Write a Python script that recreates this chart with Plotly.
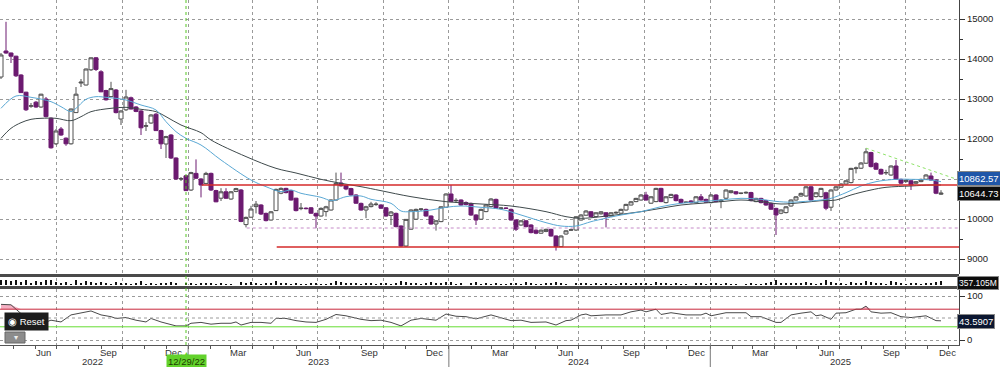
import numpy as np
import pandas as pd
import plotly.graph_objects as go

# ---------------- data (weekly candles) ----------------
dates = pd.date_range("2022-04-14", periods=189, freq="7D")

open_ = [13550,14200,14150,14070,13600,13170,12820,12920,12800,13000,
         12520,11880,12250,12020,11880,12660,13400,13350,13730,14030,
         13680,13210,13060,13225,12500,12730,13030,12800,12700,12320,
         12400,12620,12210,11875,12100,11525,11000,11080,10725,11140,
         11000,10890,11140,10710,10520,10680,10500,10690,10725,9860,
         10045,10310,10350,10140,9975,10210,10645,10765,10710,10520,
         10260,10270,10280,10140,10075,10185,10225,10475,10900,10840,
         10760,10600,10390,10225,10310,10360,10350,10280,10090,10140,
         9825,9325,9745,9995,10240,10240,10075,9875,9935,10295,
         10625,10455,10475,10410,10390,10100,9995,10185,10310,10490,
         10265,10275,10240,9975,9850,9955,9850,9720,9645,9690,
         9740,9575,9310,9625,9720,9725,9975,10095,10180,10060,
         10130,10155,10075,10150,10145,10225,10350,10435,10475,10600,
         10395,10435,10765,10410,10535,10600,10490,10415,10450,10410,
         10555,10490,10410,10600,10440,10520,10660,10680,10640,10650,
         10660,10435,10515,10460,10390,10265,10145,10160,10325,10475,
         10575,10575,10805,10560,10560,10655,10295,10725,10795,10875,
         10910,11260,11270,11395,11660,11390,11240,11155,11100,11325,
         10990,10935,10955,10895,10935,10995,11075,10975,10620]
high = [14150,14930,14160,14080,13620,13180,12900,12950,13130,13050,
        12540,12250,12300,12040,12760,13300,13500,13760,14040,14050,
        13720,13230,13430,13250,12720,13230,13060,12820,12720,12420,
        12620,12650,12230,12080,12120,11540,11050,11100,11180,11490,
        11020,11180,11160,10730,10770,10770,10700,10780,10750,10060,
        10330,10450,10370,10160,10200,10760,10790,10780,10730,10530,
        10400,10290,10300,10160,10290,10330,10490,11160,11160,10860,
        10780,10620,10410,10330,10430,10420,10370,10300,10200,10160,
        9840,10000,10240,10260,10270,10260,10090,9970,10320,10640,
        10850,10520,10490,10440,10410,10120,10260,10370,10520,10510,
        10300,10290,10260,9990,9970,9970,9870,9740,9740,9760,
        9760,9590,9590,9720,9760,10070,10120,10220,10200,10170,
        10200,10170,10170,10190,10260,10380,10450,10530,10620,10680,
        10570,10780,10780,10570,10630,10620,10510,10440,10470,10570,
        10625,10510,10620,10620,10500,10740,10720,10700,10660,10690,
        10680,10530,10530,10480,10410,10280,10240,10320,10490,10570,
        10660,10820,10830,10670,10780,10680,10740,10820,10890,10970,
        11280,11310,11420,11770,11680,11420,11260,11230,11340,11475,
        11010,10990,10980,10950,11010,11120,11160,11000,10720]
low = [13500,14130,13900,13550,13150,12700,12780,12780,12780,12540,
       11760,11850,12080,11830,11860,12650,13300,13340,13700,13700,
       13170,12960,13050,12640,12350,12700,12740,12670,12100,12200,
       12380,12200,11750,11525,11500,10980,10950,10700,10700,11000,
       10540,10870,10700,10420,10450,10500,10480,10670,9920,9790,
       10030,10140,10100,9940,9960,10200,10620,10640,10460,10190,
       10220,10240,10130,9770,10060,10060,10210,10460,10810,10720,
       10580,10380,10210,10020,10290,10330,10250,10060,9850,9790,
       9300,9300,9730,9980,10200,10060,9860,9710,9920,10280,
       10420,10400,10330,10340,10080,9850,9980,10170,10290,10250,
       10240,10250,9960,9700,9830,9790,9640,9620,9630,9670,
       9560,9210,9300,9610,9700,9700,9960,10080,10040,10040,
       10110,9790,10060,10130,10130,10210,10340,10420,10460,10460,
       10380,10420,10420,10390,10520,10440,10390,10400,10390,10390,
       10460,10400,10390,10420,10270,10500,10640,10610,10620,10630,
       10440,10420,10390,10330,10230,9600,10120,10140,10310,10460,
       10560,10560,10460,10540,10540,10220,10200,10710,10780,10860,
       10890,11140,11250,11380,11290,11230,11110,11100,11080,10980,
       10870,10910,10725,10870,10920,10980,10960,10620,10600]
close = [14100,14150,14070,13580,13160,12730,12830,12800,13120,12560,
         11780,12200,12100,11880,12750,13120,13420,13750,14030,13740,
         13180,12980,13260,12660,12700,13050,12750,12690,12280,12330,
         12600,12210,11880,12060,11525,11000,11010,10710,11160,11020,
         10850,11140,10725,10430,10680,10520,10680,10760,9940,10040,
         10250,10370,10125,9960,10180,10740,10765,10660,10475,10210,
         10270,10260,10145,10075,10265,10305,10475,10890,10830,10750,
         10600,10395,10225,10305,10375,10370,10270,10075,10175,9810,
         9325,9990,10225,10240,10250,10075,9875,9955,10305,10625,
         10435,10465,10350,10365,10100,9975,10240,10350,10500,10270,
         10275,10265,9975,9745,9955,9810,9660,9645,9720,9740,
         9575,9310,9575,9705,9730,10055,10100,10200,10060,10155,
         10180,10060,10155,10165,10240,10365,10430,10515,10600,10475,
         10555,10765,10435,10555,10615,10460,10410,10420,10410,10555,
         10475,10420,10600,10435,10470,10725,10705,10630,10645,10665,
         10460,10515,10410,10350,10245,10100,10225,10305,10475,10555,
         10640,10805,10475,10655,10765,10270,10725,10805,10875,10955,
         11265,11275,11400,11680,11310,11245,11125,11160,11325,10995,
         10895,10970,10850,10930,10990,11100,10975,10645,10644.73]

volume_m = [390,400,360,380,350,390,330,360,340,380,
            400,340,330,350,300,380,330,370,340,330,
            350,330,300,340,320,330,300,310,360,290,
            320,300,330,310,340,330,270,320,330,300,
            320,330,310,300,310,290,300,270,340,330,
            340,320,300,330,310,360,330,320,300,310,
            290,300,310,330,290,300,320,370,350,330,
            320,330,300,310,320,290,310,330,300,330,
            360,350,320,310,290,330,340,310,320,340,
            350,300,310,280,320,340,300,310,300,320,
            290,300,330,310,300,340,310,290,300,310,
            320,350,320,300,270,330,320,310,300,310,
            300,320,290,300,310,320,300,310,330,320,
            300,340,330,310,300,320,290,300,280,310,
            320,300,310,320,300,330,290,300,280,300,
            320,290,300,330,350,390,320,310,330,320,
            310,340,320,300,330,380,340,310,320,300,
            340,310,330,360,350,330,310,300,370,340,
            320,300,330,310,300,320,330,340,357.105]

# moving averages (week index, value)
ma_fast_k = [0,3,6,10,12,14,15,17,19,21,23,25,28,31,33,35,37,40,44,50,53,56,58,60,64,66,67,69,
             72,74,78,80,82,86,89,92,96,100,104,109,112,115,118,120,124,128,132,136,140,144,148,
             152,155,158,160,164,166,169,172,175,179,182,186,188]
ma_fast_v = [12767,13075,13042,12933,12808,12683,12767,12992,13058,13042,13017,12975,12850,12725,
             12433,12183,12017,11850,11475,10975,10808,10683,10725,10642,10542,10458,10475,10558,
             10575,10492,10392,10200,10183,10225,10292,10325,10292,10242,10100,9908,9825,9825,9933,
             9992,10100,10183,10308,10392,10433,10475,10517,10492,10440,10420,10433,10475,10517,
             10658,10825,10933,10992,10992,10975,10933]
ma_slow_k = [0,2,4,6,8,11,14,16,18,22,25,28,31,33,36,40,42,49,55,59,64,68,72,76,82,89,96,102,109,
             113,116,120,124,128,132,136,140,144,148,152,156,160,164,167,170,174,177,182,186,188]
ma_slow_v = [12017,12267,12408,12492,12517,12517,12458,12558,12683,12767,12792,12742,12683,12558,
             12350,12158,11975,11560,11267,11150,10992,10892,10808,10708,10558,10433,10375,10325,
             10183,10058,10017,10058,10117,10183,10267,10350,10392,10433,10475,10433,10375,10408,
             10458,10475,10600,10725,10792,10825,10850,10850]

# RSI (week index, value)
rsi_k = [0,2,4,6,8,9,10,12,14,16,18,20,22,23,25,27,29,30,32,35,37,38,40,42,44,46,47,48,50,52,54,
         55,57,59,61,63,65,67,69,72,74,76,78,80,82,84,86,87,89,91,93,95,98,100,102,104,106,109,
         111,113,114,116,117,118,121,124,126,128,129,131,132,134,137,140,141,142,145,149,150,152,
         155,156,158,160,162,163,164,166,167,169,171,172,173,174,176,178,180,182,185,187,188]
rsi_v = [81,80,60,44,54,41,45,41,57,62,66,57,53,49,51,45,41,49,41,32,32,38,40,36,38,38,41,34,40,
         40,38,49,49,44,41,40,47,58,55,47,44,45,40,32,45,49,47,45,59,54,53,48,57,51,44,45,40,41,
         34,44,45,57,59,55,57,57,64,68,64,70,58,62,57,57,61,55,62,62,53,53,40,40,57,61,64,55,57,
         47,61,62,70,70,77,64,61,62,53,51,55,44,43.5907]

# analysis lines
hlevels = [10850, 9300]
hstarts = ["2023-01-20", "2023-05-05"]
pink_level, pink_start = 9775, "2023-03-24"
trend_start, trend_vals = "2025-08-07", [11770, 10975]
marker_date = "2022-12-29"

y_ticks = [9000, 10000, 11000, 12000, 13000, 14000, 15000]
y_tick_text = ["9000", "10000", "", "12000", "13000", "14000", "15000"]
month_lbl_dates = ["2022-06-12","2022-09-12","2022-12-12","2023-03-12","2023-06-12","2023-09-12",
                   "2023-12-12","2024-03-12","2024-06-12","2024-09-12","2024-12-12","2025-03-12",
                   "2025-06-12","2025-09-12","2025-11-29"]
month_lbl_text = ["Jun","Sep","Dec","Mar","Jun","Sep","Dec","Mar","Jun","Sep","Dec","Mar","Jun","Sep","Dec"]
year_lbl_dates = ["2022-08-20","2023-07-02","2024-07-01","2025-07-02"]
year_lbl_text = ["2022","2023","2024","2025"]

# ---------------- layout helpers ----------------
H = 367
def py(pix):
    return 1 - pix / H

XD = 0.959
ref = pd.Timestamp(marker_date)
def px_date(p):
    return ref + pd.Timedelta(days=(p - 186) * 7 / 5)

x_range = [px_date(0), px_date(959)]
quarters = pd.date_range("2022-07-01", "2025-10-01", freq="QS")
months = pd.date_range("2022-05-01", "2025-12-01", freq="MS")

FONT = "Liberation Sans, Arial, sans-serif"
GRID = "#9a9a9a"

fig = go.Figure()

fig.add_trace(go.Candlestick(
    x=dates, open=open_, high=high, low=low, close=close,
    increasing=dict(line=dict(color="#505050", width=1), fillcolor="white"),
    decreasing=dict(line=dict(color="#6c1a70", width=1), fillcolor="#6c1a70"),
    whiskerwidth=0, showlegend=False, xaxis="x", yaxis="y"))

fig.add_trace(go.Scatter(x=dates[ma_slow_k], y=ma_slow_v, mode="lines",
                         line=dict(color="#3f4a4c", width=1, shape="spline"),
                         showlegend=False, xaxis="x", yaxis="y"))
fig.add_trace(go.Scatter(x=dates[ma_fast_k], y=ma_fast_v, mode="lines",
                         line=dict(color="#5aa8d4", width=1, shape="spline"),
                         showlegend=False, xaxis="x", yaxis="y"))

fig.add_trace(go.Bar(x=dates, y=volume_m, marker=dict(color="#111111", line=dict(width=0)),
                     width=3.6 * 86400000, showlegend=False, xaxis="x2", yaxis="y2"))

rx = dates[rsi_k]
fig.add_trace(go.Scatter(x=rx, y=[70] * len(rx), mode="lines", line=dict(width=0),
                         showlegend=False, xaxis="x3", yaxis="y3", hoverinfo="skip"))
fig.add_trace(go.Scatter(x=rx, y=np.maximum(rsi_v, 70), mode="lines", line=dict(width=0),
                         fill="tonexty", fillcolor="rgba(240,150,175,0.75)",
                         showlegend=False, xaxis="x3", yaxis="y3", hoverinfo="skip"))
fig.add_trace(go.Scatter(x=rx, y=rsi_v, mode="lines", line=dict(color="#4a4a4a", width=1),
                         showlegend=False, xaxis="x3", yaxis="y3"))

xcommon = dict(type="date", range=x_range, domain=[0, XD], tickvals=quarters,
               showgrid=True, gridcolor=GRID, griddash="dot", gridwidth=1,
               showticklabels=False, zeroline=False, fixedrange=True)
ycommon = dict(side="right", showline=True, linecolor="#444", linewidth=1, zeroline=False,
               tickfont=dict(family=FONT, size=9.5, color="#222"), fixedrange=True)

fig.update_layout(
    width=1000, height=367, margin=dict(l=0, r=0, t=0, b=0), autosize=False,
    paper_bgcolor="white", plot_bgcolor="white", showlegend=False,
    boxgap=0.2, boxgroupgap=0, bargap=0,
    xaxis=dict(**xcommon, anchor="y", ticks="", rangeslider=dict(visible=False)),
    xaxis2=dict(**xcommon, anchor="y2", ticks="", matches="x"),
    xaxis3=dict(**xcommon, anchor="y3", matches="x", ticks="outside", ticklen=3,
                tickcolor="#555", showline=True, linecolor="#555",
                minor=dict(tickvals=months, ticks="outside", ticklen=3, tickcolor="#555",
                           showgrid=False)),
    yaxis=dict(**ycommon, anchor="x", domain=[py(274), 1], range=[8625, 15475],
               tickvals=y_ticks, ticktext=y_tick_text, ticks="outside", ticklen=5,
               tickcolor="#333", showgrid=True, gridcolor=GRID, griddash="dot",
               minor=dict(dtick=500, tick0=0, ticks="outside", ticklen=3, tickcolor="#333",
                          showgrid=False)),
    yaxis2=dict(**ycommon, anchor="x2", domain=[py(285), py(278)], range=[270, 440],
                showticklabels=False, showgrid=False, ticks=""),
    yaxis3=dict(**ycommon, anchor="x3", domain=[py(345), py(289)], range=[-11.36, 115.9],
                tickvals=[0, 100], ticks="outside", ticklen=5, tickcolor="#333",
                showgrid=True, gridcolor=GRID, griddash="dot"),
)

shapes = []
for a, b in [(274, 277), (286, 289)]:
    shapes.append(dict(type="rect", xref="paper", yref="paper", x0=0, x1=XD, y0=py(b), y1=py(a),
                       fillcolor="#4a4a4a", line=dict(width=0), layer="above"))
for lvl, st in zip(hlevels, hstarts):
    shapes.append(dict(type="line", xref="x", yref="y", x0=st, x1=x_range[1], y0=lvl, y1=lvl,
                       line=dict(color="#d42a2a", width=1.6)))
shapes.append(dict(type="line", xref="x", yref="y", x0=pink_start, x1=x_range[1],
                   y0=pink_level, y1=pink_level, line=dict(color="#c58ac8", width=1, dash="dot")))
shapes.append(dict(type="line", xref="x", yref="y", x0=trend_start, x1=x_range[1],
                   y0=trend_vals[0], y1=trend_vals[1], line=dict(color="#8fe36a", width=1, dash="dot")))
shapes.append(dict(type="line", xref="paper", yref="y3", x0=0, x1=XD, y0=70, y1=70,
                   line=dict(color="#c8283c", width=1)))
shapes.append(dict(type="line", xref="paper", yref="y3", x0=0, x1=XD, y0=30, y1=30,
                   line=dict(color="#66dd33", width=1)))
shapes.append(dict(type="line", xref="paper", yref="y3", x0=0, x1=XD, y0=50, y1=50,
                   line=dict(color=GRID, width=1, dash="dot")))
shapes.append(dict(type="line", xref="x", yref="paper", x0=marker_date, x1=marker_date,
                   y0=py(345), y1=1, line=dict(color="#55c422", width=1, dash="dot")))
for yd in ["2023-01-01", "2024-01-01", "2025-01-01"]:
    shapes.append(dict(type="line", xref="x", yref="paper", x0=yd, x1=yd, y0=0, y1=py(345),
                       line=dict(color="#777", width=1)))
shapes.append(dict(type="rect", xref="paper", yref="paper", x0=0.005, x1=0.025,
                   y0=py(343), y1=py(332), fillcolor="#8c8c8c", line=dict(color="#666", width=1)))
fig.update_layout(shapes=shapes)

ann = []
for d, t in zip(month_lbl_dates, month_lbl_text):
    ann.append(dict(x=d, xref="x", y=py(352), yref="paper", text=t, showarrow=False,
                    font=dict(family=FONT, size=9.5, color="#333"), xanchor="center", yanchor="middle"))
for d, t in zip(year_lbl_dates, year_lbl_text):
    ann.append(dict(x=d, xref="x", y=py(361.5), yref="paper", text=t, showarrow=False,
                    font=dict(family=FONT, size=9.5, color="#333"), xanchor="center", yanchor="middle"))
ann.append(dict(x=marker_date, xref="x", y=py(361), yref="paper", text="12/29/22", showarrow=False,
                font=dict(family=FONT, size=9.5, color="#1d3d00"), bgcolor="#63d22c",
                borderpad=1, xanchor="center", yanchor="middle"))
ann.append(dict(x=marker_date, xref="x", y=py(353), yref="paper", text="▲", showarrow=False,
                font=dict(family=FONT, size=7, color="#63d22c"), xanchor="center", yanchor="middle"))

def valbox(pix, text, bg, size=9.5):
    return dict(x=0.957, xref="paper", y=py(pix), yref="paper", text=text, showarrow=False,
                font=dict(family=FONT, size=size, color="white"), bgcolor=bg,
                bordercolor="#888", borderwidth=1, borderpad=1, xanchor="left", yanchor="middle")

ann.append(valbox(178, "10862.57", "#1f56a8"))
ann.append(valbox(193, "10644.73", "#0c0c0c"))
ann.append(valbox(283, "357.105M", "#0c0c0c", size=8.5))
ann.append(valbox(321, "43.5907", "#0b1630"))
ann.append(dict(x=0.004, xref="paper", y=py(321), yref="paper", text="◉ Reset", showarrow=False,
                font=dict(family=FONT, size=9.5, color="white"), bgcolor="#1c1c1c",
                borderpad=3, xanchor="left", yanchor="middle"))
ann.append(dict(x=0.0155, xref="paper", y=py(337.5), yref="paper", text="▾", showarrow=False,
                font=dict(family=FONT, size=8, color="#eee"), xanchor="center", yanchor="middle"))
fig.update_layout(annotations=ann)

fig.write_html("out.html", config={"displayModeBar": False},
               post_script="document.body.style.margin='0';document.body.style.padding='0';"
                           "document.body.style.overflow='hidden';")
